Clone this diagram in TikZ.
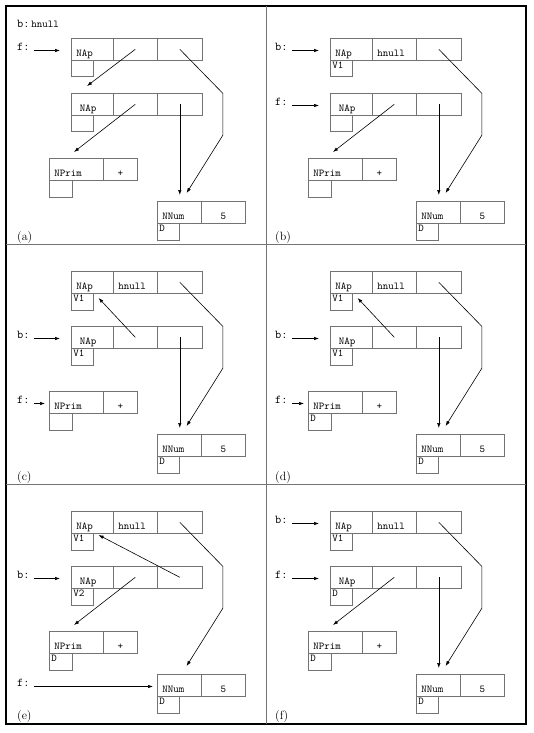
\documentclass[tikz,border=0pt]{standalone}
\usetikzlibrary{arrows.meta,calc}
\definecolor{boxgray}{gray}{0.45}
\newcommand{\boxfont}{\fontsize{10.5}{12}\selectfont\ttfamily}
\newcommand{\labfont}{\fontsize{12}{14}\selectfont\ttfamily}
\begin{document}
\begin{tikzpicture}[x=1pt, y=-1pt,
  cell/.style={draw=boxgray, line width=0.6pt, anchor=north west, inner ysep=0pt, minimum height=22pt, text height=14pt, text depth=0pt, font=\boxfont},
  lcell/.style={cell, text width=#1, inner xsep=5pt, align=left},
  ccell/.style={cell, minimum width=#1, inner xsep=0pt},
  subcell/.style={cell, minimum height=16.5pt, text height=7pt, text depth=7pt, text width=#1, inner xsep=2pt, align=left},
  ptr/.style={-{Latex[length=5pt,width=3.5pt]}, line width=0.6pt},
  bptr/.style={ptr, shorten <=4pt, shorten >=11pt},
  sptr/.style={ptr, shorten <=4pt, shorten >=4pt},
  lbl/.style={font=\labfont, anchor=base west, inner sep=0pt},
  tag/.style={font=\large, anchor=base west, inner sep=0pt}]
\useasboundingbox (0,0) rectangle (533,733);
\draw[line width=1.2pt] (6,6) rectangle (526,724);
\draw[boxgray, line width=0.6pt] (266,6) -- (266,724) (6,244) -- (526,244) (6,484) -- (526,484);

% the four records of every panel
\foreach \pn/\dx/\dy/\hn/\ua/\ub/\uc in {a/0/0/{}/{}/{}/{}, b/259/0/hnull/V1/{}/{}, c/0/233/hnull/V1/V1/{}, d/259/233/hnull/V1/V1/D, e/0/473/hnull/V1/V2/D, f/259/473/hnull/V1/D/D}{
\begin{scope}[shift={(\dx,\dy)}]
\node[lcell=32pt] (\pn-t1) at (71,38) {NAp};
\node[lcell=34pt] (\pn-t2) at (113,38) {\hn};
\node[ccell=45pt] (\pn-t3) at (157,38) {};
\node[subcell=18pt] (\pn-tu) at (71,60) {\ua};
\node[lcell=32pt] (\pn-s1) at (71,93) {\ NAp};
\node[lcell=34pt] (\pn-s2) at (113,93) {};
\node[ccell=45pt] (\pn-s3) at (157,93) {};
\node[subcell=18pt] (\pn-su) at (71,115) {\ub};
\node[lcell=44pt] (\pn-p1) at (49,158) {NPrim};
\node[ccell=34pt] (\pn-p2) at (103,158) {+};
\node[subcell=19pt] (\pn-pu) at (49,180) {\uc};
\node[lcell=34pt] (\pn-n1) at (157,201) {NNum};
\node[ccell=44pt] (\pn-n2) at (201,201) {5};
\node[subcell=18pt] (\pn-nu) at (157,223) {D};
\end{scope}
\draw[ptr] (\pn-t3.center) -- ++(43,44) -- ++(0,42) -- ($(\pn-n1.north east)+(-15,-8)$);
}

% (a)
\node[lbl] (a-b) at (17,28) {b:{\boxfont\,hnull}};
\node[lbl] (a-f) at (17,50.5) {f:};
\draw[bptr] (a-f.base east) -- (a-f.base east -| a-t1.west);
\draw[ptr] (a-t2.center) -- ($(a-s1.north west)+(16,-7)$);
\draw[ptr] (a-s2.center) -- ($(a-p1.north west)+(25,-6)$);
\draw[ptr, shorten >=6pt] (a-s3.center) -- (a-s3.center |- a-n1.north);
\node[tag] (la) at (17,240) {(a)};

% (b)
\node[lbl] (b-b) at (275,50.5) {b:};
\node[lbl] (b-f) at (275,105.5) {f:};
\draw[bptr] (b-b.base east) -- (b-b.base east -| b-t1.west);
\draw[bptr] (b-f.base east) -- (b-f.base east -| b-s1.west);
\draw[ptr] (b-s2.center) -- ($(b-p1.north west)+(25,-6)$);
\draw[ptr, shorten >=6pt] (b-s3.center) -- (b-s3.center |- b-n1.north);
\node[tag] (lb) at (275,240) {(b)};

% (c)
\node[lbl] (c-b) at (17,338.5) {b:};
\node[lbl] (c-f) at (17,403.5) {f:};
\draw[bptr] (c-b.base east) -- (c-b.base east -| c-s1.west);
\draw[sptr] (c-f.base east) -- (c-f.base east -| c-p1.west);
\draw[ptr] (c-s2.center) -- ($(c-tu.north east)+(5,5)$);
\draw[ptr, shorten >=6pt] (c-s3.center) -- (c-s3.center |- c-n1.north);
\node[tag] (lc) at (17,480) {(c)};

% (d)
\node[lbl] (d-b) at (275,338.5) {b:};
\node[lbl] (d-f) at (275,403.5) {f:};
\draw[bptr] (d-b.base east) -- (d-b.base east -| d-s1.west);
\draw[sptr] (d-f.base east) -- (d-f.base east -| d-p1.west);
\draw[ptr] (d-s2.center) -- ($(d-tu.north east)+(5,5)$);
\draw[ptr, shorten >=6pt] (d-s3.center) -- (d-s3.center |- d-n1.north);
\node[tag] (ld) at (275,480) {(d)};

% (e)
\node[lbl] (e-b) at (17,578.5) {b:};
\node[lbl] (e-f) at (17,686.5) {f:};
\draw[bptr] (e-b.base east) -- (e-b.base east -| e-s1.west);
\draw[sptr] (e-f.base east) -- (e-f.base east -| e-n1.west);
\draw[ptr] (e-s3.center) -- ($(e-tu.north east)+(5,2)$);
\draw[ptr] (e-s2.center) -- ($(e-p1.north west)+(25,-6)$);
\node[tag] (le) at (17,719) {(e)};

% (f)
\node[lbl] (f-b) at (275,523.5) {b:};
\node[lbl] (f-f) at (275,578.5) {f:};
\draw[bptr] (f-b.base east) -- (f-b.base east -| f-t1.west);
\draw[bptr] (f-f.base east) -- (f-f.base east -| f-s1.west);
\draw[ptr] (f-s2.center) -- ($(f-p1.north west)+(25,-6)$);
\draw[ptr, shorten >=6pt] (f-s3.center) -- (f-s3.center |- f-n1.north);
\node[tag] (lf) at (275,719) {(f)};
\end{tikzpicture}
\end{document}
